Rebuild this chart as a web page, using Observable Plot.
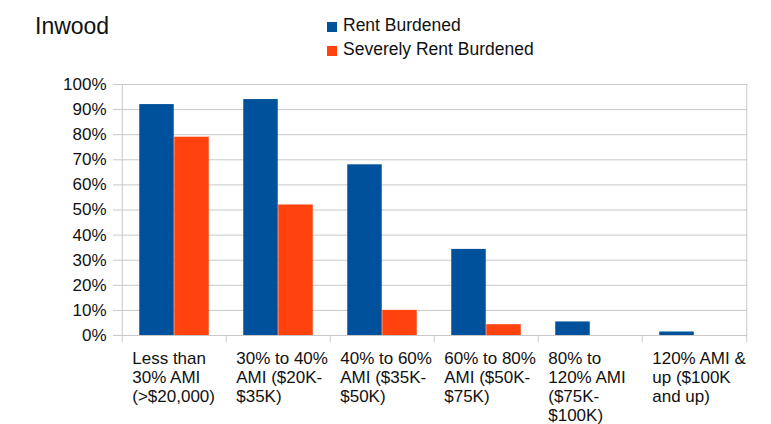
<!DOCTYPE html>
<html>
<head>
<meta charset="utf-8">
<script src="https://cdn.jsdelivr.net/npm/d3@7"></script>
<script src="https://cdn.jsdelivr.net/npm/@observablehq/plot@0.6"></script>
<style>
  body { margin: 0; background: #fff; font-family: "Liberation Sans", Arial, sans-serif; color: #111; }
  #wrap { width: 771px; }
  #head { position: relative; height: 70px; }
  #title { position: absolute; left: 35px; top: 15px; font-size: 23px; line-height: 23px; }
  .lg { position: absolute; left: 327px; font-size: 17.5px; line-height: 17px; white-space: nowrap; }
  .lg span.sw { position: absolute; left: 0; width: 10px; height: 10px; }
  .lg span.tx { position: absolute; left: 16px; top: 0; }
</style>
</head>
<body>
<div id="wrap">
  <div id="head"><div id="title">Inwood</div></div>
  <div id="chart"></div>
</div>
<script>
const categories = [
  "Less than 30% AMI (>$20,000)",
  "30% to 40% AMI ($20K-$35K)",
  "40% to 60% AMI ($35K-$50K)",
  "60% to 80% AMI ($50K-$75K)",
  "80% to 120% AMI ($75K-$100K)",
  "120% AMI & up ($100K and up)"
];
const categoryLabels = [
  "Less than\n30% AMI\n(>$20,000)",
  "30% to 40%\nAMI ($20K-\n$35K)",
  "40% to 60%\nAMI ($35K-\n$50K)",
  "60% to 80%\nAMI ($50K-\n$75K)",
  "80% to\n120% AMI\n($75K-\n$100K)",
  "120% AMI &\nup ($100K\nand up)"
];
const seriesNames = ["Rent Burdened", "Severely Rent Burdened"];
const seriesColors = ["#00519b", "#ff420e"];
const rentBurdened = [0.92, 0.94, 0.68, 0.343, 0.054, 0.014];
const severelyRentBurdened = [0.79, 0.52, 0.10, 0.043, 0, 0];
const yTicks = [0, 0.1, 0.2, 0.3, 0.4, 0.5, 0.6, 0.7, 0.8, 0.9, 1.0];

// legend
const head = document.getElementById("head");
seriesNames.forEach((name, i) => {
  const row = document.createElement("div");
  row.className = "lg";
  row.style.top = (17 + i * 24) + "px";
  const sw = document.createElement("span");
  sw.className = "sw";
  sw.style.background = seriesColors[i];
  sw.style.top = "5px";
  const tx = document.createElement("span");
  tx.className = "tx";
  tx.textContent = name;
  row.appendChild(sw); row.appendChild(tx);
  head.appendChild(row);
});

const rows1 = categories.map((c, i) => ({category: c, value: rentBurdened[i]}));
const rows2 = categories.map((c, i) => ({category: c, value: severelyRentBurdened[i]}));

const W = 771, ML = 120, MR = 24;
const bw = (W - ML - MR) / categories.length;
const barW = 35;
const side = bw / 2 - barW;

const boundaries = categories.map((c, i) => ({category: c, dx: -bw / 2, edge: i === 0}))
  .concat([{category: categories[categories.length - 1], dx: bw / 2, edge: true}]);

const plot = Plot.plot({
  width: W,
  height: 354,
  marginLeft: ML,
  marginRight: MR,
  marginTop: 14,
  marginBottom: 89,
  style: {fontFamily: "Liberation Sans, Arial, sans-serif", fontSize: "17px", color: "#111", background: "#fff"},
  x: {domain: categories, padding: 0, axis: null},
  y: {domain: [0, 1], ticks: yTicks, tickSize: 0, tickPadding: 14, tickFormat: d => Math.round(d * 100) + "%", label: null},
  marks: [
    Plot.ruleY(yTicks, {stroke: "#c8c8c8", strokeWidth: 1, insetLeft: -7}),
    Plot.ruleX(boundaries.filter(d => d.edge && d.dx < 0), {x: "category", dx: -bw / 2, y1: 1, y2: -0.028, stroke: "#c8c8c8"}),
    Plot.ruleX(boundaries.filter(d => d.edge && d.dx > 0), {x: "category", dx: bw / 2, y1: 1, y2: -0.028, stroke: "#c8c8c8"}),
    Plot.ruleX(boundaries.filter(d => !d.edge), {x: "category", dx: -bw / 2, y1: 0, y2: -0.028, stroke: "#c8c8c8"}),
    Plot.barY(rows1, {x: "category", y: "value", fill: seriesColors[0], insetLeft: side, insetRight: bw / 2}),
    Plot.barY(rows2, {x: "category", y: "value", fill: seriesColors[1], insetLeft: bw / 2, insetRight: side}),
    Plot.text(categories, {x: d => d, y: () => 0, text: (d, i) => categoryLabels[i], textAnchor: "start", lineAnchor: "top", dx: -bw / 2 + 10, dy: 15, lineHeight: 1.12, fill: "#111", fontSize: 17})
  ]
});
document.getElementById("chart").appendChild(plot);
</script>
</body>
</html>
